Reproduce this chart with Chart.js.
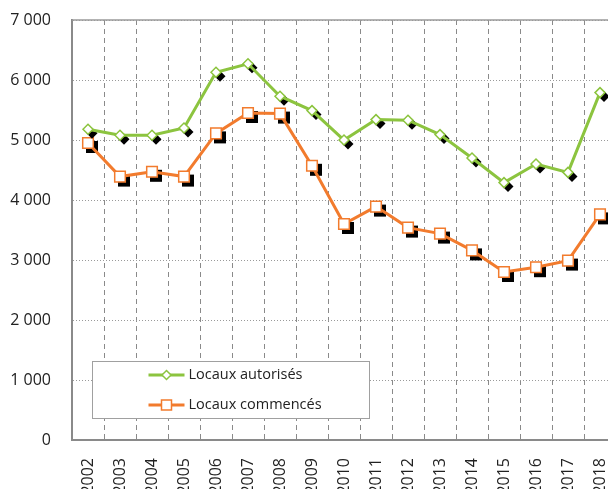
<!DOCTYPE html>
<html lang="fr">
<head>
<meta charset="utf-8">
<script src="https://cdn.jsdelivr.net/npm/chart.js@4/dist/chart.umd.min.js"></script>
<style>
  html, body { margin: 0; padding: 0; background: #fff; overflow: hidden; }
  #wrap { width: 640px; height: 489px; }
</style>
</head>
<body>
<div id="wrap"><canvas id="chart" width="640" height="489"></canvas></div>
<script>
// --- data ---
const years = ['2002', '2003', '2004', '2005', '2006', '2007', '2008', '2009', '2010',
               '2011', '2012', '2013', '2014', '2015', '2016', '2017', '2018'];
const locauxAutorises = [5180, 5080, 5080, 5200, 6130, 6270, 5730, 5490, 5000,
                         5340, 5330, 5090, 4700, 4290, 4600, 4460, 5790];
const locauxCommences = [4950, 4390, 4470, 4390, 5110, 5450, 5440, 4570, 3600,
                         3890, 3540, 3440, 3160, 2800, 2880, 2990, 3760];
const yTickLabels = ['0', '1 000', '2 000', '3 000', '4 000', '5 000', '6 000', '7 000'];

const GREEN = '#8cc43f';
const ORANGE = '#f27b2d';
const FONT = '"Open Sans", "Noto Sans", sans-serif';

// black drop shadow under each marker, like the spreadsheet original
const markerShadow = {
    id: 'markerShadow',
    beforeDatasetDraw(chart, args) {
        const ctx = chart.ctx;
        const ds = chart.data.datasets[args.index];
        ctx.save();
        ctx.fillStyle = '#000';
        args.meta.data.forEach(pt => {
            const x = pt.x + 4, y = pt.y + 4;
            ctx.beginPath();
            if (ds.pointStyle === 'rectRot') {
                const r = 5.5;
                ctx.moveTo(x - r, y); ctx.lineTo(x, y - r);
                ctx.lineTo(x + r, y); ctx.lineTo(x, y + r);
                ctx.closePath();
            } else {
                ctx.rect(x - 6, y - 6, 12, 12);
            }
            ctx.fill();
        });
        ctx.restore();
    }
};

// solid top edge of the plot frame
const frameTop = {
    id: 'frameTop',
    beforeDatasetsDraw(chart) {
        const { ctx, chartArea } = chart;
        ctx.save();
        ctx.strokeStyle = '#9a9a9a';
        ctx.lineWidth = 1.5;
        ctx.beginPath();
        ctx.moveTo(chartArea.left, chartArea.top);
        ctx.lineTo(chartArea.right, chartArea.top);
        ctx.stroke();
        ctx.restore();
    }
};

// boxed legend sitting inside the plot, bottom left
const boxLegend = {
    id: 'boxLegend',
    afterDraw(chart) {
        const { ctx, chartArea } = chart;
        const bx = chartArea.left + 20.5, by = 361.5;
        ctx.save();
        ctx.fillStyle = '#fff';
        ctx.strokeStyle = '#a0a0a0';
        ctx.lineWidth = 1;
        ctx.fillRect(bx, by, 277, 57);
        ctx.strokeRect(bx, by, 277, 57);

        chart.data.datasets.forEach((ds, i) => {
            const y = 375 + i * 30;
            const x1 = bx + 56, x2 = bx + 92, mx = (x1 + x2) / 2;
            ctx.strokeStyle = ds.borderColor;
            ctx.lineWidth = 3;
            ctx.beginPath();
            ctx.moveTo(x1, y); ctx.lineTo(x2, y);
            ctx.stroke();

            ctx.fillStyle = '#fff';
            ctx.lineWidth = 1.5;
            ctx.beginPath();
            if (ds.pointStyle === 'rectRot') {
                const r = 4.5;
                ctx.moveTo(mx - r, y); ctx.lineTo(mx, y - r);
                ctx.lineTo(mx + r, y); ctx.lineTo(mx, y + r);
                ctx.closePath();
            } else {
                ctx.rect(mx - 5, y - 5, 10, 10);
            }
            ctx.fill();
            ctx.stroke();

            ctx.fillStyle = '#222';
            ctx.font = '14.5px ' + FONT;
            ctx.textBaseline = 'middle';
            ctx.textAlign = 'left';
            ctx.fillText(ds.label, x2 + 4, y);
        });
        ctx.restore();
    }
};

new Chart(document.getElementById('chart'), {
    type: 'line',
    data: {
        labels: years,
        datasets: [
            {
                label: 'Locaux autorisés',
                data: locauxAutorises,
                borderColor: GREEN,
                borderWidth: 3,
                pointStyle: 'rectRot',
                pointRadius: 5,
                pointBorderWidth: 1.5,
                pointBackgroundColor: '#fff',
                pointBorderColor: GREEN,
                tension: 0
            },
            {
                label: 'Locaux commencés',
                data: locauxCommences,
                borderColor: ORANGE,
                borderWidth: 3,
                pointStyle: 'rect',
                pointRadius: 7.5,
                pointBorderWidth: 1.5,
                pointBackgroundColor: '#fff',
                pointBorderColor: ORANGE,
                tension: 0
            }
        ]
    },
    options: {
        responsive: false,
        animation: false,
        devicePixelRatio: 1,
        layout: { padding: { top: 20, right: 24, left: 0, bottom: 0 } },
        plugins: { legend: { display: false }, tooltip: { enabled: false } },
        scales: {
            x: {
                type: 'category',
                offset: true,
                grid: { offset: true, color: '#8a8a8a', lineWidth: 1, drawTicks: false },
                border: { display: true, color: '#8a8a8a', width: 2, dash: [5, 4] },
                ticks: {
                    autoSkip: false, minRotation: 90, maxRotation: 90, padding: 18,
                    color: '#222', font: { family: FONT, size: 16 }
                },
                afterFit: (scale) => {
                    scale.height = 49;
                    scale.paddingLeft = 0;
                    scale.paddingRight = 0;
                }
            },
            y: {
                min: 0, max: 7000,
                grid: { color: '#9a9a9a', lineWidth: 1, drawTicks: false },
                border: { display: true, color: '#8a8a8a', width: 2, dash: [1, 2] },
                ticks: {
                    stepSize: 1000, padding: 21, color: '#222',
                    font: { family: FONT, size: 16 },
                    callback: (v) => yTickLabels[Math.round(v / 1000)]
                },
                afterFit: (scale) => {
                    scale.width = 72;
                    scale.paddingTop = 0;
                    scale.paddingBottom = 0;
                }
            }
        }
    },
    plugins: [markerShadow, frameTop, boxLegend]
});
</script>
</body>
</html>
